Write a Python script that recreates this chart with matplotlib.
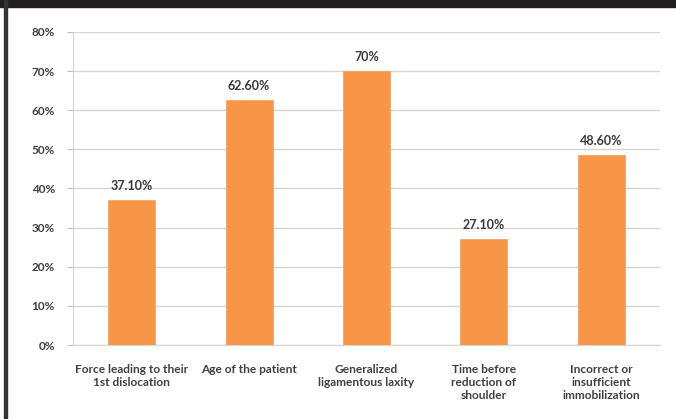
import matplotlib
matplotlib.use("Agg")
import matplotlib.pyplot as plt
from matplotlib.patches import Rectangle

categories = ["Force leading to their\n1st dislocation", "Age of the patient",
              "Generalized\nligamentous laxity", "Time before\nreduction of\nshoulder",
              "Incorrect or\ninsufficient\nimmobilization"]
values = [37.1, 62.6, 70.0, 27.1, 48.6]
value_labels = ["37.10%", "62.60%", "70%", "27.10%", "48.60%"]
yticks = [0, 10, 20, 30, 40, 50, 60, 70, 80]

plt.rcParams['font.family'] = ['Lato', 'DejaVu Sans']

fig = plt.figure(figsize=(6.76, 4.19), dpi=100)
ax = fig.add_axes([73/676, 74/419, 587/676, 313/419])

x = list(range(len(categories)))
bars = ax.bar(x, values, width=0.4, color="#F79646", edgecolor="#F2A060", linewidth=0.5, zorder=3)
for xi, v, lab in zip(x, values, value_labels):
    ax.annotate(lab, (xi, v), xytext=(0, 6), textcoords="offset points",
                ha="center", va="bottom", fontsize=9, fontweight="bold", color="#3A3A3A")

ax.set_xlim(-0.5, len(categories) - 0.5)
ax.set_ylim(0, 80)
ax.set_yticks(yticks)
ax.set_yticklabels([f"{t}%" for t in yticks], fontsize=8.5, fontweight="bold", color="#404040")
ax.set_xticks(x)
ax.set_xticklabels(categories, fontsize=8.6, fontweight="bold", color="#404040", linespacing=1.25)
ax.tick_params(axis="x", length=0, pad=13.5)
ax.tick_params(axis="y", length=4, color="#BFBFBF", pad=9)
ax.grid(axis="y", color="#D9D4D0", linewidth=1.0, zorder=0)
for s in ["top", "right"]:
    ax.spines[s].set_visible(False)
ax.spines["left"].set_color("#D9D4D0")
ax.spines["bottom"].set_color("#D9D4D0")

# frame decorations
fig.add_artist(Rectangle((0, 1 - 7/419), 1, 7/419, transform=fig.transFigure, color="#231F20", zorder=10))
fig.add_artist(Rectangle((4/676, 0), 3/676, 1, transform=fig.transFigure, color="#333333", zorder=10))

fig.savefig("out.png", dpi=100)
